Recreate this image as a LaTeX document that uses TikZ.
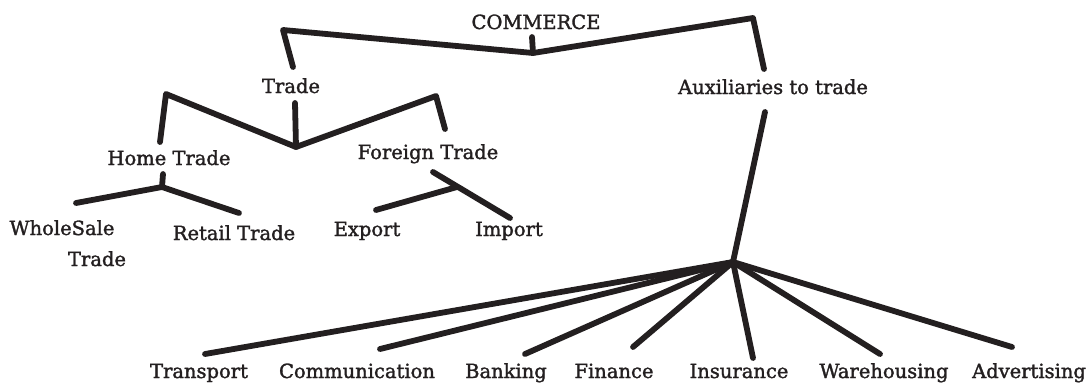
\documentclass[tikz,border=0pt]{standalone}
\usepackage{fontspec}
\setmainfont{DejaVu Serif}
\newfontfamily\lblfont{DejaVu Serif}[FakeBold=1.6]
\definecolor{ink}{HTML}{231F20}
\begin{document}
\begin{tikzpicture}[x=1pt,y=-1pt,
  lbl/.style={font=\lblfont\fontsize{19.5}{23}\selectfont, text=ink, inner sep=0pt, anchor=base},
  br/.style={draw=ink, line width=5.8pt, line cap=round, line join=round}]
\useasboundingbox (0,0) rectangle (1089,383);
% labels
\node[lbl] (commerce) at (536,29) {COMMERCE};
\node[lbl] (trade) at (291,93) {Trade};
\node[lbl] (aux) at (773,94) {Auxiliaries to trade};
\node[lbl] (home) at (169,165) {Home Trade};
\node[lbl] (foreign) at (428,159) {Foreign Trade};
\node[lbl] (whole) at (62,235) {WholeSale};
\node[lbl] (whole2) at (97,266) {Trade};
\node[lbl] (retail) at (234,240) {Retail Trade};
\node[lbl] (export) at (367,236) {Export};
\node[lbl] (import) at (509,236) {Import};
\node[lbl] (transport) at (199,378) {Transport};
\node[lbl] (communication) at (357,378) {Communication};
\node[lbl] (banking) at (506,378) {Banking};
\node[lbl] (finance) at (614,378) {Finance};
\node[lbl] (insurance) at (739,378) {Insurance};
\node[lbl] (warehousing) at (884,378) {Warehousing};
\node[lbl] (advertising) at (1029,378) {Advertising};
% connector points
\coordinate (c1) at (283,30); \coordinate (c2) at (293,67);
\coordinate (cv) at (533,53); \coordinate (ct) at (532,37);
\coordinate (c3) at (753,18); \coordinate (c4) at (764,69);
\coordinate (t1) at (166,94); \coordinate (t2) at (160,142);
\coordinate (tv) at (296,147); \coordinate (tt) at (295,103);
\coordinate (t3) at (436,96); \coordinate (t4) at (445,129);
\coordinate (h0) at (163,174); \coordinate (hj) at (162,187);
\coordinate (h1) at (76,203); \coordinate (h2) at (239,213);
\coordinate (f1) at (433,172); \coordinate (fj) at (457,187);
\coordinate (f2) at (510,218); \coordinate (f3) at (376,210);
\coordinate (a0) at (765,112); \coordinate (aj) at (733,262);
\coordinate (e1) at (205,354); \coordinate (e2) at (380,349);
\coordinate (e3) at (525,354); \coordinate (e4) at (633,347);
\coordinate (e5) at (753,358); \coordinate (e6) at (880,354);
\coordinate (e7) at (1012,347);
% commerce bracket
\draw[br] (c2) -- (c1) -- (cv) -- (c3) -- (c4);
\draw[br] (ct) -- (cv);
% trade bracket
\draw[br] (t2) -- (t1) -- (tv) -- (t3) -- (t4);
\draw[br] (tt) -- (tv);
% home trade split
\draw[br] (h1) -- (hj) -- (h2);
\draw[br] (h0) -- (hj);
% foreign trade split
\draw[br] (f1) -- (f2);
\draw[br] (f3) -- (fj);
% auxiliaries fan
\draw[br] (a0) -- (aj);
\foreach \e in {e1,e2,e3,e4,e5,e6,e7} \draw[br] (aj) -- (\e);
\end{tikzpicture}
\end{document}
